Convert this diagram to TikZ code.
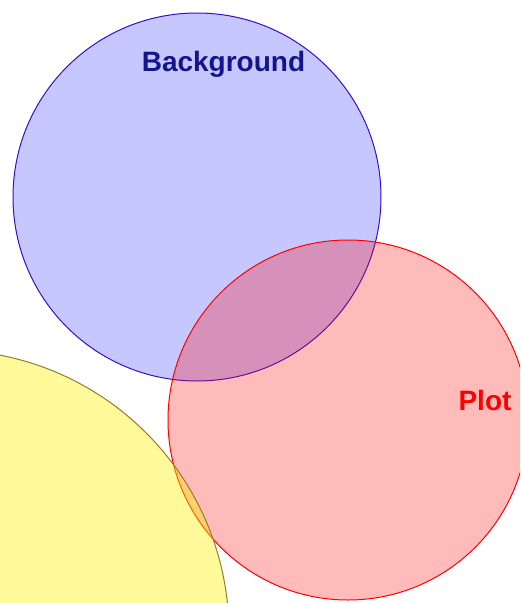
\documentclass[tikz,border=0pt]{standalone}
\usepackage{fontspec}
\setmainfont{Liberation Sans}
\definecolor{bgedge}{RGB}{51,17,204}
\definecolor{bgtext}{RGB}{20,20,140}
\definecolor{yedge}{RGB}{150,120,60}
\begin{document}
\begin{tikzpicture}[x=1pt,y=-1pt,
  disc/.style={circle,inner sep=0pt,line width=1pt},
  lbl/.style={inner sep=0pt,anchor=base,font=\fontsize{28}{33}\selectfont\bfseries}]
\useasboundingbox (0,0) rectangle (520,603);
\clip (0,0) rectangle (520,603);
\node[disc,draw=bgedge,fill=blue,fill opacity=0.22,minimum size=368pt] (bg) at (197,197) {};
\node[disc,draw=red,fill=red,fill opacity=0.27,minimum size=360pt] (plot) at (348,420) {};
\node[disc,draw=yedge,fill=yellow,fill opacity=0.4,minimum size=566pt] (fg) at (-54,633) {};
\node[lbl,text=bgtext] (bgl) at (223.5,71) {Background};
\node[lbl,text=red] (pl) at (485,410) {Plot};
\end{tikzpicture}
\end{document}
